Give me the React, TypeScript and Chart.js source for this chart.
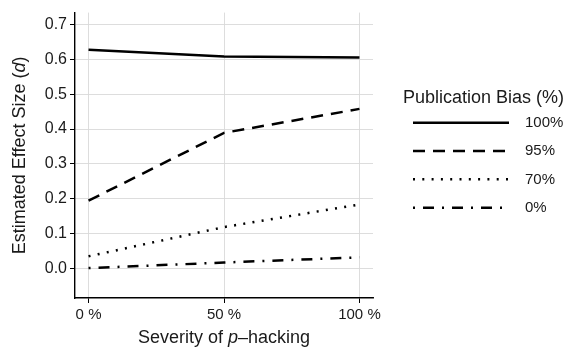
import React, { useEffect, useRef } from "react";
import { Chart, registerables } from "chart.js";

Chart.register(...registerables);

// ---- data ----
const severity = [0, 50, 100];
const xTicks = [0, 50, 100];
const yTicks = [0, 0.1, 0.2, 0.3, 0.4, 0.5, 0.6, 0.7];
const seriesLabels = ["100%", "95%", "70%", "0%"];
const bias100 = [0.628, 0.609, 0.606];
const bias95 = [0.194, 0.389, 0.458];
const bias70 = [0.034, 0.118, 0.183];
const bias0 = [0.0, 0.016, 0.031];
const legendTitle = "Publication Bias (%)";

const FONT = "'Liberation Sans', Arial, Helvetica, sans-serif";
const TEXT = "#1a1a1a";

const seriesValues = [bias100, bias95, bias70, bias0];
const dashes = [[], [12, 8], [2, 7.3], [2, 8, 11, 8]];

function drawMixed(ctx: CanvasRenderingContext2D, parts: [string, boolean][], size: number) {
  const widths = parts.map(([t, it]) => {
    ctx.font = `${it ? "italic " : ""}${size}px ${FONT}`;
    return ctx.measureText(t).width;
  });
  const total = widths.reduce((a, b) => a + b, 0);
  let x = -total / 2;
  parts.forEach(([t, it], i) => {
    ctx.font = `${it ? "italic " : ""}${size}px ${FONT}`;
    ctx.fillText(t, x, 0);
    x += widths[i];
  });
}

const annotationsPlugin = {
  id: "customAnnotations",
  afterDraw(chart: any) {
    const ctx: CanvasRenderingContext2D = chart.ctx;
    const area = chart.chartArea;
    ctx.save();
    ctx.fillStyle = TEXT;
    ctx.textAlign = "left";
    ctx.textBaseline = "middle";
    // y title
    ctx.save();
    ctx.translate(20, (area.top + area.bottom) / 2);
    ctx.rotate(-Math.PI / 2);
    drawMixed(ctx, [["Estimated Effect Size (", false], ["d", true], [")", false]], 18);
    ctx.restore();
    // x title
    ctx.save();
    ctx.translate((area.left + area.right) / 2, 338);
    drawMixed(ctx, [["Severity of ", false], ["p", true], ["\u2013hacking", false]], 18);
    ctx.restore();
    // legend
    ctx.font = `18px ${FONT}`;
    ctx.textBaseline = "alphabetic";
    ctx.fillText(legendTitle, 403, 103);
    chart.data.datasets.forEach((ds: any, i: number) => {
      const y = 122.7 + i * 28.33;
      ctx.save();
      ctx.strokeStyle = ds.borderColor;
      ctx.lineWidth = ds.borderWidth;
      ctx.lineCap = "butt";
      ctx.setLineDash(ds.borderDash || []);
      ctx.beginPath();
      ctx.moveTo(413, y);
      ctx.lineTo(509, y);
      ctx.stroke();
      ctx.restore();
      ctx.font = `15px ${FONT}`;
      ctx.textBaseline = "middle";
      ctx.fillText(ds.label, 525, y);
    });
    ctx.restore();
  },
};

export default function App() {
  const ref = useRef<HTMLCanvasElement>(null);
  useEffect(() => {
    if (!ref.current) return;
    const chart = new Chart(ref.current, {
      type: "line",
      data: {
        datasets: seriesValues.map((vals, i) => ({
          label: seriesLabels[i],
          data: severity.map((x, j) => ({ x, y: vals[j] })),
          borderColor: "#000000",
          borderWidth: 2.5,
          borderDash: dashes[i],
          borderCapStyle: "butt",
          pointRadius: 0,
          fill: false,
          tension: 0,
        })),
      },
      options: {
        responsive: false,
        animation: false,
        devicePixelRatio: 1,
        layout: { padding: { left: 0, top: 11, right: 206, bottom: 0 } },
        plugins: { legend: { display: false }, tooltip: { enabled: false } },
        scales: {
          x: {
            type: "linear",
            min: -5,
            max: 105,
            afterBuildTicks: (s: any) => {
              s.ticks = xTicks.map((v) => ({ value: v }));
            },
            afterFit: (s: any) => {
              s.height = 53;
            },
            ticks: {
              callback: (v: any) => `${v} %`,
              font: { size: 15, family: FONT },
              color: TEXT,
              padding: 3,
              maxRotation: 0,
              autoSkip: false,
            },
            grid: { color: "#d9d9d9", lineWidth: 0.9, tickLength: 5, tickColor: "#000", tickWidth: 1 },
            border: { color: "#000", width: 1.4 },
          },
          y: {
            type: "linear",
            min: -0.086,
            max: 0.735,
            afterBuildTicks: (s: any) => {
              s.ticks = yTicks.map((v) => ({ value: v }));
            },
            afterFit: (s: any) => {
              s.width = 75;
            },
            ticks: {
              callback: (v: any) => Number(v).toFixed(1),
              font: { size: 16, family: FONT },
              color: TEXT,
              padding: 3,
            },
            grid: { color: "#d9d9d9", lineWidth: 0.9, tickLength: 5, tickColor: "#000", tickWidth: 1 },
            border: { color: "#000", width: 1.4 },
          },
        },
      } as any,
      plugins: [annotationsPlugin],
    });
    return () => chart.destroy();
  }, []);
  return (
    <div style={{ position: "fixed", left: 0, top: 0, width: 579, height: 351, background: "#fff" }}>
      <canvas ref={ref} width={579} height={351} style={{ display: "block" }} />
    </div>
  );
}
